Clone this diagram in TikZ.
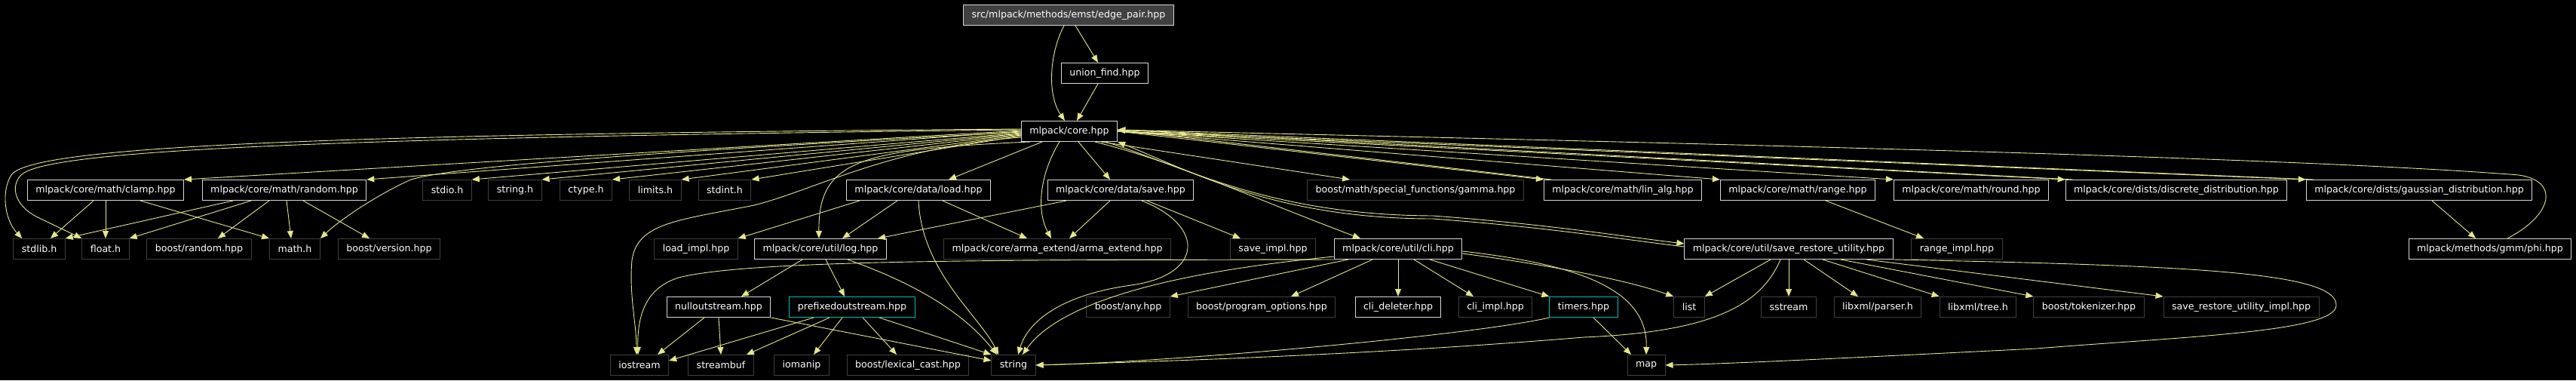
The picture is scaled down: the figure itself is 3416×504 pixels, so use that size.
\documentclass[tikz,border=0pt]{standalone}
\usepackage{fontspec}
\setmainfont{DejaVu Sans}
\definecolor{incl}{RGB}{230,230,140}
\definecolor{docline}{RGB}{215,215,215}
\definecolor{sysline}{RGB}{64,64,64}
\definecolor{cutline}{RGB}{0,191,191}
\definecolor{rootfill}{RGB}{64,64,64}
\usetikzlibrary{arrows.meta}
\tikzset{
  hdr/.style={draw=docline,line width=1pt,fill=black,text=white,
              font=\fontsize{12.6}{15}\selectfont,inner xsep=11pt,inner ysep=0pt,
              minimum height=27pt},
  sys/.style={hdr,draw=sysline},
  cut/.style={hdr,draw=cutline},
  top/.style={hdr,fill=rootfill},
  inc/.style={-{Triangle[length=10pt,width=8pt]},line width=0.9pt,draw=incl},
}
\begin{document}
\begin{tikzpicture}[x=1pt,y=-1pt]
    \fill[black] (0,0) rectangle (3416,504);
    \useasboundingbox (0,0) rectangle (3416,504);
    \node[top] (root) at (1417,20) {src/mlpack/methods/emst/edge\_pair.hpp};
    \node[hdr] (uf) at (1465,97) {union\_find.hpp};
    \node[hdr] (core) at (1418,174) {mlpack/core.hpp};
    % second row
    \node[hdr] (clamp) at (140,252) {mlpack/core/math/clamp.hpp};
    \node[hdr] (random) at (377,252) {mlpack/core/math/random.hpp};
    \node[sys] (stdio) at (593,252) {stdio.h};
    \node[sys] (cstring) at (683,252) {string.h};
    \node[sys] (ctype) at (777,252) {ctype.h};
    \node[sys] (limits) at (869,252) {limits.h};
    \node[sys] (stdint) at (961,252) {stdint.h};
    \node[hdr] (load) at (1218,252) {mlpack/core/data/load.hpp};
    \node[hdr] (save) at (1486,252) {mlpack/core/data/save.hpp};
    \node[sys] (gamma) at (1877,252) {boost/math/special\_functions/gamma.hpp};
    \node[hdr] (linalg) at (2152,252) {mlpack/core/math/lin\_alg.hpp};
    \node[hdr] (range) at (2384,252) {mlpack/core/math/range.hpp};
    \node[hdr] (roundh) at (2614,252) {mlpack/core/math/round.hpp};
    \node[hdr] (discrete) at (2886,252) {mlpack/core/dists/discrete\_distribution.hpp};
    \node[hdr] (gauss) at (3208,252) {mlpack/core/dists/gaussian\_distribution.hpp};
    % third row
    \node[sys] (stdlib) at (52,330) {stdlib.h};
    \node[sys] (floath) at (140,330) {float.h};
    \node[sys] (brandom) at (264,330) {boost/random.hpp};
    \node[sys] (mathh) at (391,330) {math.h};
    \node[sys] (bversion) at (516,330) {boost/version.hpp};
    \node[sys] (loadimpl) at (923,330) {load\_impl.hpp};
    \node[hdr] (logh) at (1088,330) {mlpack/core/util/log.hpp};
    \node[sys] (arma) at (1402,330) {mlpack/core/arma\_extend/arma\_extend.hpp};
    \node[sys] (saveimpl) at (1688,330) {save\_impl.hpp};
    \node[hdr] (cli) at (1854,330) {mlpack/core/util/cli.hpp};
    \node[hdr] (sru) at (2372,330) {mlpack/core/util/save\_restore\_utility.hpp};
    \node[sys] (rangeimpl) at (2595,330) {range\_impl.hpp};
    \node[hdr] (phi) at (3302,330) {mlpack/methods/gmm/phi.hpp};
    % fourth row
    \node[hdr] (nullout) at (953,407) {nulloutstream.hpp};
    \node[cut] (prefixed) at (1130,407) {prefixedoutstream.hpp};
    \node[sys] (bany) at (1496,407) {boost/any.hpp};
    \node[sys] (progopt) at (1673,407) {boost/program\_options.hpp};
    \node[hdr] (clidel) at (1854,407) {cli\_deleter.hpp};
    \node[sys] (cliimpl) at (1983,407) {cli\_impl.hpp};
    \node[cut] (timers) at (2100,407) {timers.hpp};
    \node[sys] (stdlist) at (2240,407) {list};
    \node[sys] (sstream) at (2372,407) {sstream};
    \node[sys] (parser) at (2490,407) {libxml/parser.h};
    \node[sys] (tree) at (2623,407) {libxml/tree.h};
    \node[sys] (tokenizer) at (2770,407) {boost/tokenizer.hpp};
    \node[sys] (sruimpl) at (2972,407) {save\_restore\_utility\_impl.hpp};
    % fifth row
    \node[sys] (iostream) at (848,484) {iostream};
    \node[sys] (streambuf) at (956,484) {streambuf};
    \node[sys] (iomanip) at (1063,484) {iomanip};
    \node[sys] (lexcast) at (1204,484) {boost/lexical\_cast.hpp};
    \node[sys] (str) at (1344,484) {string};
    \node[sys] (stdmap) at (2183,484) {map};

    \draw[inc] ([xshift=-6pt]root.south) .. controls (1392,70) and (1388,125) .. ([xshift=-6pt]core.north);
    \draw[inc] ([xshift=9pt]root.south) -- ([xshift=-9pt]uf.north);
    \draw[inc] ([xshift=-9pt]uf.south) -- ([xshift=10pt]core.north);
    % core.hpp, left side
    \draw[inc] ([yshift=3pt]core.west) .. controls (400,178) and (40,195) .. (15,232)
               .. controls (2,252) and (5,290) .. ([xshift=12pt]stdlib.north west);
    \draw[inc] ([yshift=2pt]core.west) .. controls (400,183) and (60,200) .. (28,232)
               .. controls (14,246) and (18,272) .. (50,288) .. controls (75,300) .. (floath.north west);
    \draw[inc] ([yshift=1pt]core.west) -- (clamp.north east);
    \draw[inc] (core.west) -- (random.north east);
    \draw[inc] ([yshift=-1pt]core.west) .. controls (800,205) and (600,222) .. (545,238)
               .. controls (500,258) and (450,292) .. (mathh.north east);
    \draw[inc] ([yshift=-2pt]core.west) -- (stdio.north east);
    \draw[inc] ([yshift=-3pt]core.west) -- (cstring.north east);
    \draw[inc] ([yshift=-4pt]core.west) -- (ctype.north east);
    \draw[inc] ([yshift=-5pt]core.west) -- (limits.north east);
    \draw[inc] ([yshift=-6pt]core.west) -- (stdint.north east);
    \draw[inc] ([yshift=-8pt]core.west) .. controls (1180,195) and (1080,252) .. (1000,272)
               .. controls (900,292) and (845,295) .. (838,345)
               .. controls (834,390) and (844,430) .. ([xshift=-4pt]iostream.north);
    \draw[inc] ([xshift=12pt]core.south west) .. controls (1140,198) and (1085,212) .. ([xshift=-2pt]logh.north);
    \draw[inc] ([xshift=-36pt]core.south) -- ([xshift=40pt]load.north);
    \draw[inc] ([xshift=-13pt]core.south) .. controls (1382,225) and (1372,275) .. ([xshift=-8pt]arma.north);
    \draw[inc] ([xshift=12pt]core.south) -- ([xshift=-14pt]save.north);
    % core.hpp, right side
    \draw[inc] ([xshift=42pt]core.south) -- ([xshift=-87pt]gamma.north);
    \draw[inc] ([xshift=34pt]core.south) .. controls (1560,215) and (1650,258) .. ([xshift=-50pt]cli.north);
    \draw[inc] ([xshift=-16pt]core.south east) .. controls (1570,220) and (1680,285) .. (1900,286)
               .. controls (2050,297) and (2150,313) .. ([yshift=7pt]sru.west);
    \draw[inc] ([yshift=3pt]sru.west) .. controls (2150,317) and (2050,301) .. (1900,290)
               .. controls (1690,290) and (1575,225) .. (core.south east);
    \draw[inc] (core.east) -- (linalg.north west);
    \draw[inc] ([xshift=10pt]linalg.north west) -- ([yshift=2pt]core.east);
    \draw[inc] (core.east) -- (range.north west);
    \draw[inc] (core.east) -- (roundh.north west);
    \draw[inc] (core.east) -- (discrete.north west);
    \draw[inc] ([xshift=10pt]discrete.north west) -- ([yshift=2pt]core.east);
    \draw[inc] (core.east) -- (gauss.north west);
    \draw[inc] ([xshift=10pt]gauss.north west) -- ([yshift=2pt]core.east);
    \draw[inc] ([xshift=23pt]phi.north) .. controls (3385,285) and (3395,240) .. (3340,232)
               .. controls (3000,205) and (2000,185) .. ([yshift=2pt]core.east);
    \draw[inc] ([xshift=17pt]gauss.south) -- ([xshift=-19pt]phi.north);
    \draw[inc] ([xshift=37pt]range.south) -- ([xshift=-44pt]rangeimpl.north);
    % math headers
    \draw[inc] ([xshift=-16pt]clamp.south) -- ([xshift=15pt]stdlib.north);
    \draw[inc] (clamp.south) -- (floath.north);
    \draw[inc] ([xshift=46pt]clamp.south) -- (mathh.north west);
    \draw[inc] ([xshift=-68pt]random.south) -- (stdlib.north east);
    \draw[inc] ([xshift=-44pt]random.south) -- (floath.north east);
    \draw[inc] ([xshift=-20pt]random.south) -- ([xshift=25pt]brandom.north);
    \draw[inc] ([xshift=3pt]random.south) -- ([xshift=-5pt]mathh.north);
    \draw[inc] ([xshift=25pt]random.south) -- ([xshift=-26pt]bversion.north);
    % data
    \draw[inc] ([xshift=-78pt]load.south) -- (loadimpl.north east);
    \draw[inc] ([xshift=-28pt]load.south) -- ([xshift=29pt]logh.north);
    \draw[inc] ([xshift=32pt]load.south) -- ([xshift=-40pt]arma.north);
    \draw[inc] (load.south) .. controls (1222,360) and (1300,420) .. ([xshift=-20pt]str.north);
    \draw[inc] ([xshift=-72pt]save.south) -- ([xshift=76pt]logh.north);
    \draw[inc] ([xshift=-14pt]save.south) -- ([xshift=16pt]arma.north);
    \draw[inc] ([xshift=35pt]save.south) -- ([xshift=-43pt]saveimpl.north);
    \draw[inc] ([xshift=28pt]save.south) .. controls (1600,300) and (1595,365) .. (1500,378)
               .. controls (1400,392) and (1362,430) .. ([xshift=6pt]str.north);
    % log
    \draw[inc] ([xshift=-24pt]logh.south) -- ([xshift=30pt]nullout.north);
    \draw[inc] ([xshift=7pt]logh.south) -- ([xshift=-10pt]prefixed.north);
    \draw[inc] ([xshift=36pt]logh.south) .. controls (1240,385) and (1290,430) .. ([xshift=-22pt]str.north);
    \draw[inc] ([xshift=-19pt]nullout.south) -- ([xshift=24pt]iostream.north);
    \draw[inc] (nullout.south) -- (streambuf.north);
    \draw[inc] (nullout.south east) -- ([yshift=6pt]str.west);
    \draw[inc] ([xshift=-51pt]prefixed.south) -- ([yshift=6pt]iostream.east);
    \draw[inc] ([xshift=-30pt]prefixed.south) -- ([xshift=34pt]streambuf.north);
    \draw[inc] ([xshift=-13pt]prefixed.south) -- ([xshift=16pt]iomanip.north);
    \draw[inc] ([xshift=14pt]prefixed.south) -- ([xshift=-15pt]lexcast.north);
    \draw[inc] ([xshift=36pt]prefixed.south) -- (str.north west);
    % cli
    \draw[inc] (cli.south west) .. controls (1400,345) and (1000,342) .. (900,368)
               .. controls (855,382) and (845,420) .. ([xshift=-2pt]iostream.north);
    \draw[inc] ([yshift=4pt]cli.south west) .. controls (1650,352) and (1420,380) .. ([xshift=12pt]str.north);
    \draw[inc] ([xshift=-66pt]cli.south) -- (bany.north east);
    \draw[inc] ([xshift=-34pt]cli.south) -- ([xshift=39pt]progopt.north);
    \draw[inc] (cli.south) -- (clidel.north);
    \draw[inc] ([xshift=21pt]cli.south) -- ([xshift=-29pt]cliimpl.north);
    \draw[inc] ([xshift=42pt]cli.south) -- (timers.north west);
    \draw[inc] ([yshift=-6pt]cli.east) .. controls (2060,352) and (2160,372) .. (stdlist.north west);
    \draw[inc] ([yshift=-3pt]cli.east) .. controls (2110,352) and (2185,390) .. (stdmap.north);
    \draw[inc] ([xshift=13pt]timers.south) -- ([xshift=-20pt]stdmap.north);
    \draw[inc] (timers.south west) .. controls (1950,445) and (1550,480) .. (str.east);
    % save_restore_utility
    \draw[inc] ([xshift=-24pt]sru.south) -- (stdlist.north east);
    \draw[inc] ([xshift=-11pt]sru.south) .. controls (2335,405) and (2270,440) .. (2100,447)
               .. controls (1800,472) and (1500,480) .. (str.east);
    \draw[inc] (sru.south) -- (sstream.north);
    \draw[inc] ([xshift=20pt]sru.south) -- ([xshift=-26pt]parser.north);
    \draw[inc] ([xshift=45pt]sru.south) -- (tree.north west);
    \draw[inc] ([xshift=69pt]sru.south) -- (tokenizer.north west);
    \draw[inc] ([xshift=103pt]sru.south) -- (sruimpl.north west);
    \draw[inc] (sru.south east) .. controls (2900,352) and (3100,360) .. (3098,405)
               .. controls (3096,440) and (2900,446) .. (2700,462)
               .. controls (2500,472) and (2300,482) .. (stdmap.east);
\end{tikzpicture}
\end{document}
